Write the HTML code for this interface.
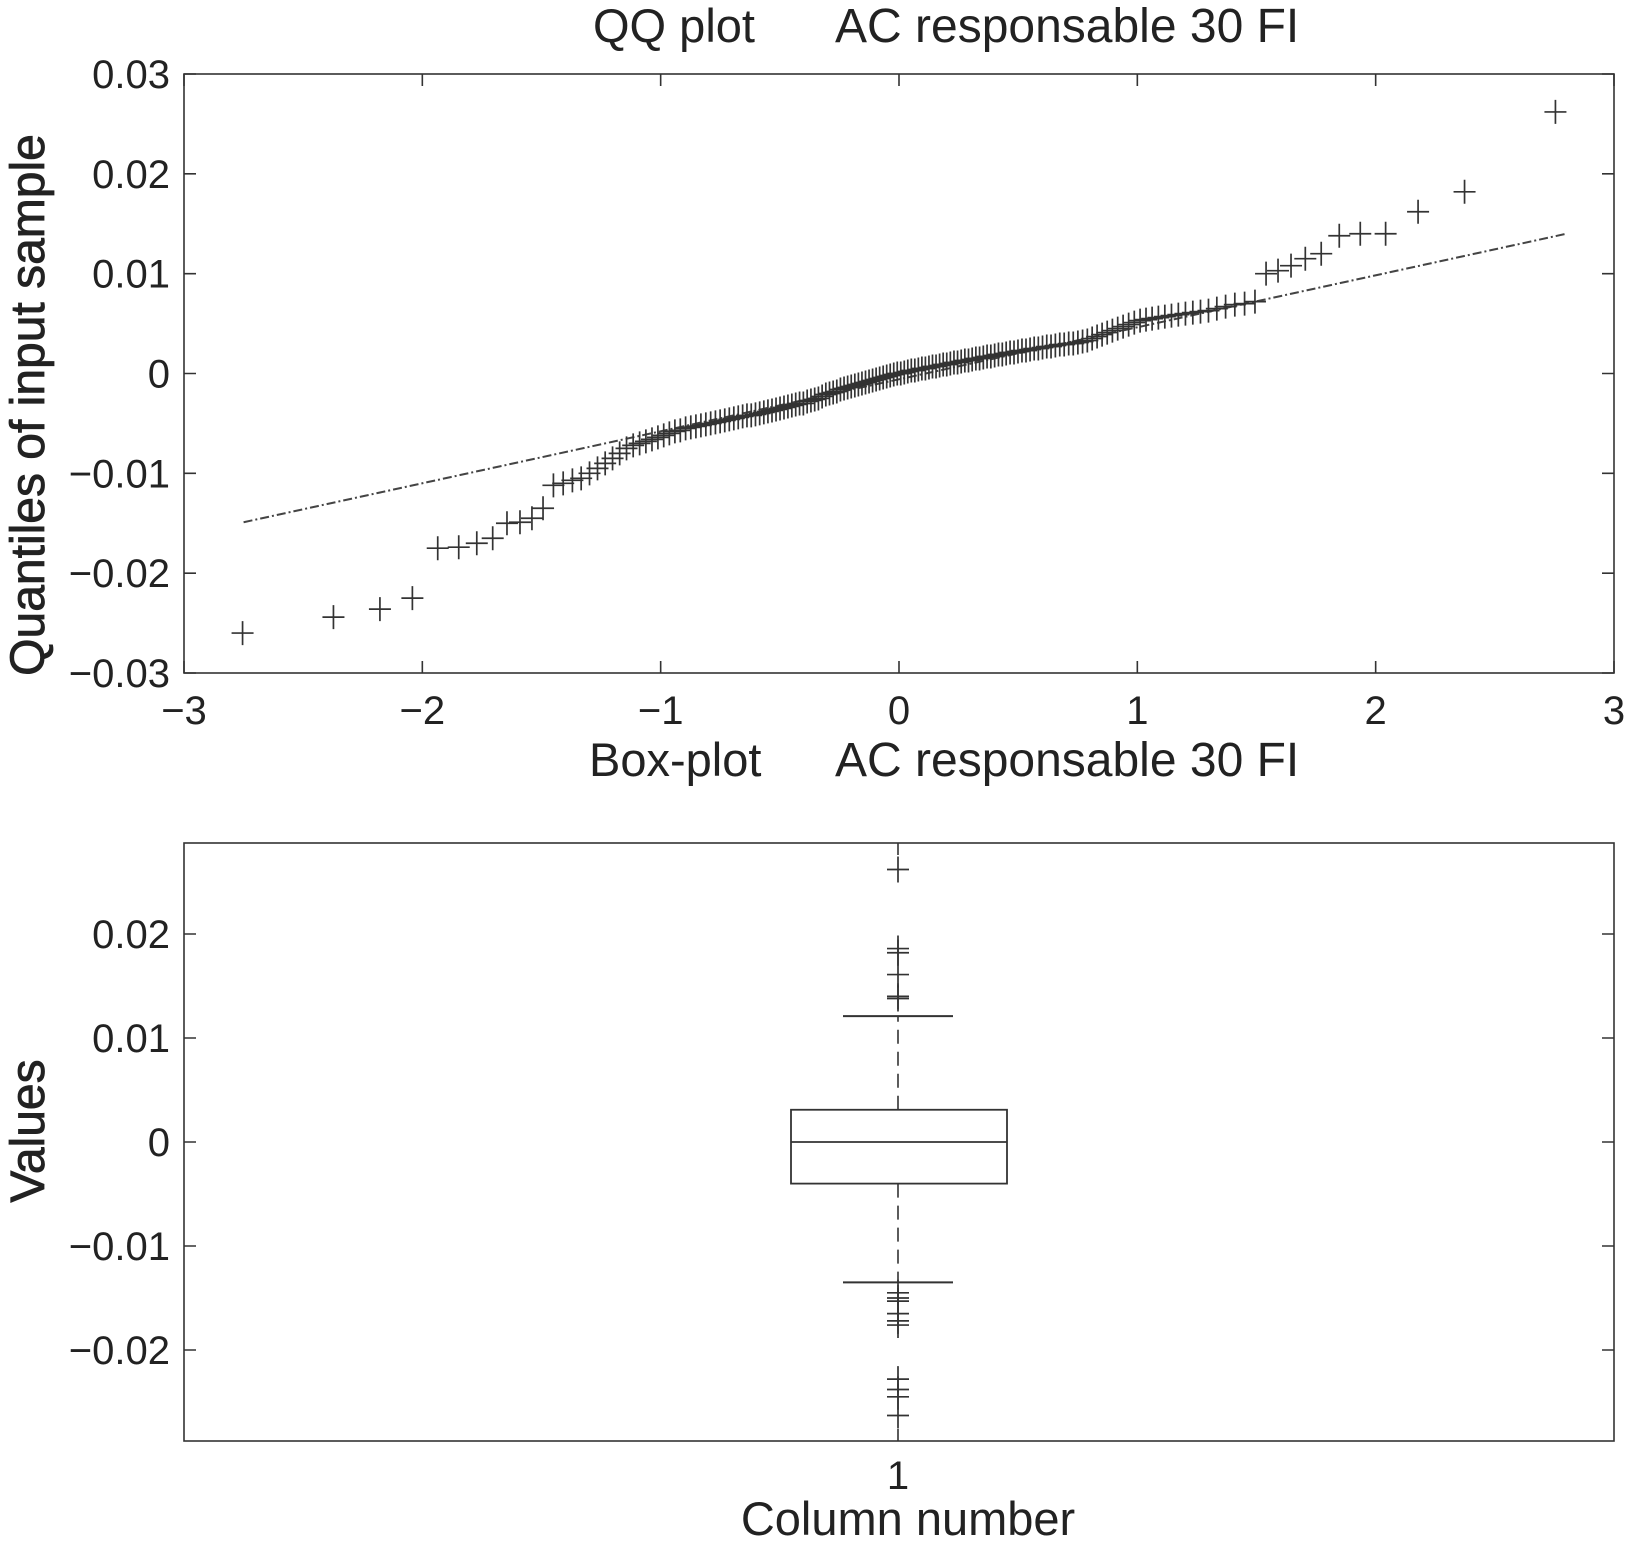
<!DOCTYPE html>
<html><head><meta charset="utf-8"><style>
body{margin:0;background:#fff}
svg text{font-family:"Liberation Sans",sans-serif;fill:#222}
</style></head><body>
<svg id="fig" width="1625" height="1546" xmlns="http://www.w3.org/2000/svg">
<g id="qq"></g>
<g id="bx"></g>
</svg>
<script>
// QQ sample (sorted, in units of 1e-4)
const qqSample=[-260,-244,-236,-225,-175,-174,-170,-165,-150,-149,-145,-135,-112,-110,-107,-105,-100,-95,-90,-85,-80,-75,-72,-70,-68,-66,-64,-62,
-60,-58,-57,-55,-54,-53,-52,-51,-50,-49,-48,-47,-46,-45,-44,-43,-42,-42,-41,-40,-39,-38,-37,-36,-35,-34,-33,-32,-31,-30,-30,
-28,-27,-26,-25,-23,-21,-20,-19,-18,-16,-15,-14,-13,-12,-11,-10,-9,-8,-7,-6,-5,-4,-3,-2,-1,0,
0,1,2,3,3,4,5,5,6,7,7,8,9,9,10,11,11,12,13,13,14,15,15,16,17,17,18,19,19,20,21,21,22,23,23,24,25,25,26,27,27,28,29,29,30,30,31,32,33,
35,37,39,41,43,45,47,49,51,53,54,55,56,57,58,59,60,
61,62,63,65,67,69,70,72,
100,103,108,115,120,138,140,140,162,182,262];
const refLineX=[-2.75,2.8];
const refLineY=[-0.0149,0.0140];
const qqXTicks=[-3,-2,-1,0,1,2,3];
const qqXTickLabels=["\u22123","\u22122","\u22121","0","1","2","3"];
const qqYTicks=[0.03,0.02,0.01,0,-0.01,-0.02,-0.03];
const qqYTickLabels=["0.03","0.02","0.01","0","\u22120.01","\u22120.02","\u22120.03"];
// box plot stats
const boxStats=[-0.0135,-0.0040,0.0,0.0031,0.0121]; // lower whisker, Q1, median, Q3, upper whisker
const boxOutliers=[0.0262,0.0186,0.0182,0.0161,0.0140,0.0138,-0.0145,-0.0150,-0.0153,-0.0165,-0.0172,-0.0176,-0.0228,-0.0238,-0.0245,-0.0263];
const boxYTicks=[0.02,0.01,0,-0.01,-0.02];
const boxYTickLabels=["0.02","0.01","0","\u22120.01","\u22120.02"];
const boxXTickLabels=["1"];

const NS="http://www.w3.org/2000/svg";
function mk(p,t,a){const e=document.createElementNS(NS,t);for(const k in a)e.setAttribute(k,a[k]);p.appendChild(e);return e;}
function norminv(p){const a=[-39.69683028665376,220.9460984245205,-275.9285104469687,138.3577518672690,-30.66479806614716,2.506628277459239],
b=[-54.47609879822406,161.5858368580409,-155.6989798598866,66.80131188771972,-13.28068155288572],
c=[-0.007784894002430293,-0.3223964580411365,-2.400758277161838,-2.549732539343734,4.374664141464968,2.938163982698783],
d=[0.007784695709041462,0.3224671290700398,2.445134137142996,3.754408661907416];
let q,r;if(p<0.02425){q=Math.sqrt(-2*Math.log(p));return(((((c[0]*q+c[1])*q+c[2])*q+c[3])*q+c[4])*q+c[5])/((((d[0]*q+d[1])*q+d[2])*q+d[3])*q+1);}
if(p>1-0.02425){q=Math.sqrt(-2*Math.log(1-p));return-(((((c[0]*q+c[1])*q+c[2])*q+c[3])*q+c[4])*q+c[5])/((((d[0]*q+d[1])*q+d[2])*q+d[3])*q+1);}
q=p-0.5;r=q*q;return(((((a[0]*r+a[1])*r+a[2])*r+a[3])*r+a[4])*r+a[5])*q/(((((b[0]*r+b[1])*r+b[2])*r+b[3])*r+b[4])*r+1);}
const ST="#333";
function plus(g,cx,cy,hw,hh){
  const e=mk(g,'path',{d:`M${cx-hw},${cy}H${cx+hw}M${cx},${cy-hh}V${cy+hh}`,stroke:ST,'stroke-width':1.7,fill:'none'});
  
  
}
// ---- QQ plot
(function(){
const g=document.getElementById('qq');
const L=184,R=1614,T=74,B=673;
const sx=v=>L+(v+3)/6*(R-L), sy=v=>T+(0.03-v)/0.06*(B-T);
const fr=mk(g,'rect',{x:L,y:T,width:R-L,height:B-T,fill:'none',stroke:ST,'stroke-width':1.6});

qqXTicks.forEach((v,i)=>{const x=sx(v);
 mk(g,'path',{d:`M${x},${B}v-12M${x},${T}v12`,stroke:ST,'stroke-width':1.6});
 const t=mk(g,'text',{x:x,y:724,'font-size':40,'text-anchor':'middle'});t.textContent=qqXTickLabels[i];
 });
qqYTicks.forEach((v,i)=>{const y=sy(v);
 mk(g,'path',{d:`M${L},${y}h12M${R},${y}h-12`,stroke:ST,'stroke-width':1.6});
 const t=mk(g,'text',{x:170,y:y+14,'font-size':40,'text-anchor':'end'});t.textContent=qqYTickLabels[i];
 });
const ln=mk(g,'line',{x1:sx(refLineX[0]),y1:sy(refLineY[0]),x2:sx(refLineX[1]),y2:sy(refLineY[1]),stroke:'#444','stroke-width':2,'stroke-dasharray':'9 3 2 3'});

const n=qqSample.length;
qqSample.forEach((v,i)=>{plus(g,sx(norminv((i+0.5)/n)),sy(v*1e-4),11,12);});
const t1=mk(g,'text',{x:593,y:42,'font-size':47});t1.textContent='QQ plot';

const t2=mk(g,'text',{x:835,y:42,'font-size':48});t2.textContent='AC responsable 30 FI';

const yl=mk(g,'text',{x:0,y:0,'font-size':48,'text-anchor':'middle','stroke':'#222','stroke-width':0.8,transform:'translate(44,405) rotate(-90)'});yl.textContent='Quantiles of input sample';

})();
// ---- Box plot
(function(){
const g=document.getElementById('bx');
const L=184,R=1614,T=843,B=1441,cx=898;
const sy=v=>1142-v/0.01*104;
const fr=mk(g,'rect',{x:L,y:T,width:R-L,height:B-T,fill:'none',stroke:ST,'stroke-width':1.6});

boxYTicks.forEach((v,i)=>{const y=sy(v);
 mk(g,'path',{d:`M${L},${y}h12M${R},${y}h-12`,stroke:ST,'stroke-width':1.6});
 const t=mk(g,'text',{x:170,y:y+14,'font-size':40,'text-anchor':'end'});t.textContent=boxYTickLabels[i];
 });
mk(g,'path',{d:`M${cx},${B}v-12M${cx},${T}v12`,stroke:ST,'stroke-width':1.6});
const xt=mk(g,'text',{x:cx,y:1489,'font-size':40,'text-anchor':'middle'});xt.textContent=boxXTickLabels[0];

const [lw,q1,md,q3,uw]=boxStats;
const w1=mk(g,'path',{d:`M${cx},${sy(q3)}V${sy(uw)}M${cx},${sy(q1)}V${sy(lw)}`,stroke:ST,'stroke-width':1.6,'stroke-dasharray':'14 8'});

const cp=mk(g,'path',{d:`M843,${sy(uw)}H953M843,${sy(lw)}H953`,stroke:ST,'stroke-width':2});

const bx=mk(g,'rect',{x:791,y:sy(q3),width:216,height:sy(q1)-sy(q3),fill:'none',stroke:ST,'stroke-width':1.8});

const mdl=mk(g,'line',{x1:791,x2:1007,y1:sy(md),y2:sy(md),stroke:ST,'stroke-width':1.8});

boxOutliers.forEach(v=>plus(g,cx,sy(v),11,13));
const t1=mk(g,'text',{x:589,y:776,'font-size':47});t1.textContent='Box-plot';

const t2=mk(g,'text',{x:835,y:776,'font-size':48});t2.textContent='AC responsable 30 FI';

const xl=mk(g,'text',{x:908,y:1535,'font-size':47,'text-anchor':'middle'});xl.textContent='Column number';

const yl=mk(g,'text',{x:0,y:0,'font-size':48,'text-anchor':'middle','stroke':'#222','stroke-width':0.8,transform:'translate(44,1131) rotate(-90)'});yl.textContent='Values';

})();
</script>
</body></html>
